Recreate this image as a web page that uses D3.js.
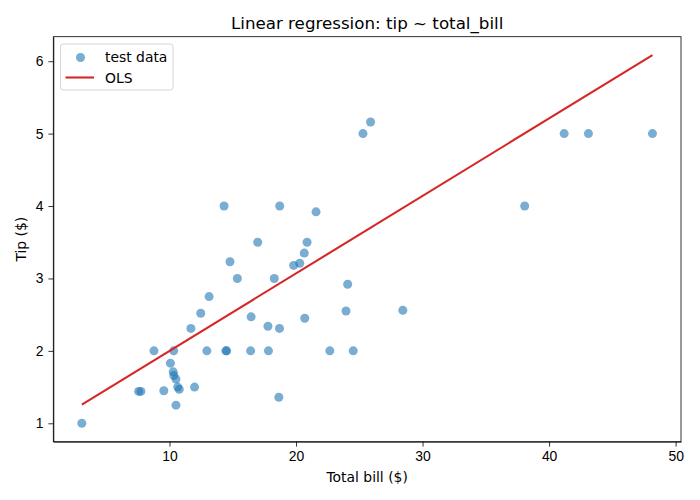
<!DOCTYPE html>
<html lang="en">
<head>
<meta charset="utf-8">
<title>Linear regression: tip ~ total_bill</title>
<script src="https://cdn.jsdelivr.net/npm/d3@7"></script>
<style>
  body { margin: 0; background: #fff; }
  svg { font-family: "DejaVu Sans", sans-serif; }
  .axis path, .axis line { stroke: #000; stroke-width: 0.8; }
  .axis text { font-size: 13.9px; fill: #000; }
</style>
</head>
<body>
<script>
// test data
const totalBill = [3.07, 7.56, 7.74, 9.55, 8.77, 10.33, 10.07, 10.29, 10.34, 10.51,
  10.65, 10.77, 10.51, 11.98, 12.95, 14.45, 14.52, 16.41, 17.82, 22.67,
  24.52, 18.64, 14.31, 18.71, 21.58, 16.97, 20.87, 20.65, 20.29, 19.81,
  14.78, 15.36, 18.28, 24.08, 13.13, 12.47, 11.69, 16.45, 17.78, 18.69,
  20.69, 23.95, 25.29, 25.89, 41.19, 43.11, 48.17, 38.07, 28.44];
const tip = [1.00, 1.44, 1.44, 1.45, 2.00, 2.00, 1.83, 1.71, 1.66, 1.61,
  1.50, 1.47, 1.25, 1.50, 2.00, 2.00, 2.00, 2.00, 2.00, 2.00,
  2.00, 1.36, 4.00, 4.00, 3.92, 3.50, 3.50, 3.35, 3.21, 3.18,
  3.23, 3.00, 3.00, 2.92, 2.75, 2.52, 2.31, 2.47, 2.34, 2.31,
  2.45, 2.55, 5.00, 5.16, 5.00, 5.00, 5.00, 4.00, 2.56];

// fitted line
const olsIntercept = 0.93;
const olsSlope = 0.107;

const xTicks = [10, 20, 30, 40, 50];
const yTicks = [1, 2, 3, 4, 5, 6];

const w = 700, h = 500;
const margin = { top: 36.7, right: 19, bottom: 58.3, left: 53.3 };

const dataset = totalBill.map((d, i) => [d, tip[i]]);

const xMin = d3.min(totalBill), xMax = d3.max(totalBill);
const olsLine = [[xMin, olsIntercept + olsSlope * xMin], [xMax, olsIntercept + olsSlope * xMax]];

// matplotlib-like 5% margins
function padded(lo, hi) {
  let p = (hi - lo) * 0.05;
  return [lo - p, hi + p];
}
const yAll = tip.concat(olsLine.map(d => d[1]));

const xScale = d3.scaleLinear()
  .domain(padded(xMin, xMax))
  .range([margin.left, w - margin.right]);

const yScale = d3.scaleLinear()
  .domain(padded(d3.min(yAll), d3.max(yAll)))
  .range([h - margin.bottom, margin.top]);

const svg = d3.select("body").append("svg")
  .attr("width", w)
  .attr("height", h);

// axes
svg.append("g")
  .attr("class", "axis")
  .attr("transform", "translate(0," + (h - margin.bottom) + ")")
  .call(d3.axisBottom(xScale).tickValues(xTicks).tickFormat(d3.format("d"))
    .tickSize(4.9).tickPadding(4.9).tickSizeOuter(0));

svg.append("g")
  .attr("class", "axis")
  .attr("transform", "translate(" + margin.left + ",0)")
  .call(d3.axisLeft(yScale).tickValues(yTicks).tickFormat(d3.format("d"))
    .tickSize(4.9).tickPadding(4.9).tickSizeOuter(0));

// frame
svg.append("rect")
  .attr("x", margin.left)
  .attr("y", margin.top)
  .attr("width", w - margin.left - margin.right)
  .attr("height", h - margin.top - margin.bottom)
  .attr("fill", "none")
  .attr("stroke", "#000")
  .attr("stroke-width", 0.8);

// points
svg.append("g").selectAll("circle")
  .data(dataset)
  .enter()
  .append("circle")
  .attr("cx", d => xScale(d[0]))
  .attr("cy", d => yScale(d[1]))
  .attr("r", 4.5)
  .attr("fill", "#1f77b4")
  .attr("fill-opacity", 0.6);

// OLS line
svg.append("path")
  .datum(olsLine)
  .attr("fill", "none")
  .attr("stroke", "#d62728")
  .attr("stroke-width", 2.1)
  .attr("d", d3.line().x(d => xScale(d[0])).y(d => yScale(d[1])));

// title and labels
svg.append("text")
  .attr("x", (margin.left + w - margin.right) / 2)
  .attr("y", 29)
  .attr("text-anchor", "middle")
  .attr("font-size", "16.7px")
  .text("Linear regression: tip ~ total_bill");

svg.append("text")
  .attr("x", (margin.left + w - margin.right) / 2)
  .attr("y", 482)
  .attr("text-anchor", "middle")
  .attr("font-size", "13.9px")
  .text("Total bill ($)");

svg.append("text")
  .attr("transform", "translate(26," + ((margin.top + h - margin.bottom) / 2) + ") rotate(-90)")
  .attr("text-anchor", "middle")
  .attr("font-size", "13.9px")
  .text("Tip ($)");

// legend
let lg = svg.append("g").attr("transform", "translate(60.5,44)");
lg.append("rect")
  .attr("width", 112.5)
  .attr("height", 46)
  .attr("rx", 2.5)
  .attr("fill", "#fff")
  .attr("fill-opacity", 0.8)
  .attr("stroke", "#ccc")
  .attr("stroke-width", 0.8);
lg.append("circle")
  .attr("cx", 20).attr("cy", 13.5).attr("r", 4.5)
  .attr("fill", "#1f77b4").attr("fill-opacity", 0.6);
lg.append("text")
  .attr("x", 44.5).attr("y", 18.3)
  .attr("font-size", "13.9px")
  .text("test data");
lg.append("line")
  .attr("x1", 5).attr("x2", 33.5).attr("y1", 33.5).attr("y2", 33.5)
  .attr("stroke", "#d62728").attr("stroke-width", 2.1);
lg.append("text")
  .attr("x", 44.5).attr("y", 38.5)
  .attr("font-size", "13.9px")
  .text("OLS");
</script>
</body>
</html>
